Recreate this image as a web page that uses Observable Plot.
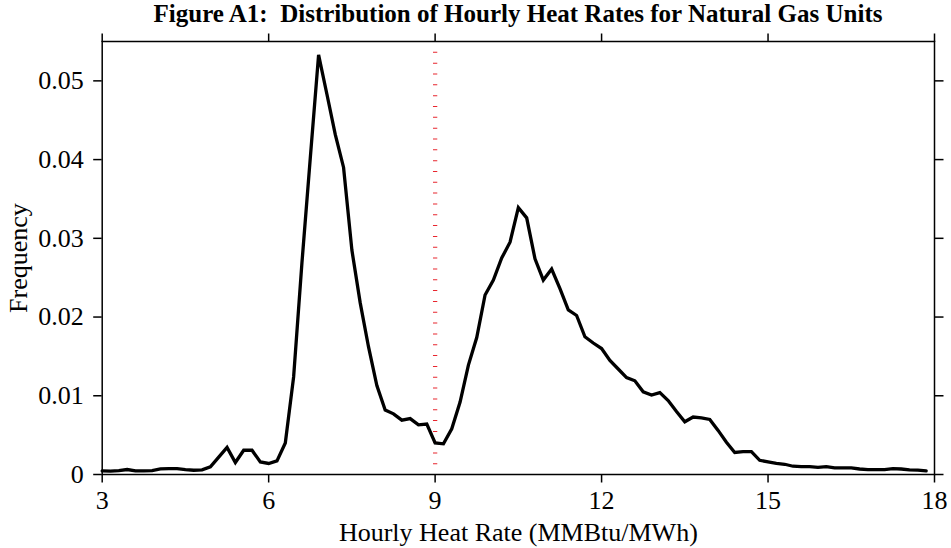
<!DOCTYPE html>
<html>
<head>
<meta charset="utf-8">
<script src="https://cdn.jsdelivr.net/npm/d3@7"></script>
<script src="https://cdn.jsdelivr.net/npm/@observablehq/plot@0.6"></script>
<style>
  html, body { margin: 0; padding: 0; background: white; }
  #title {
    width: 951px; height: 30px; box-sizing: border-box;
    padding-left: 85px; text-align: center;
    font-family: "Liberation Serif", "Times New Roman", serif;
    font-weight: bold; font-size: 25px; line-height: 28px; color: black;
    white-space: nowrap;
  }
  svg { display: block; }
</style>
</head>
<body>
<div id="title">Figure A1:&nbsp; Distribution of Hourly Heat Rates for Natural Gas Units</div>
<div id="chart"></div>
<script>
const heatRate = [3.00,3.15,3.30,3.45,3.60,3.75,3.90,4.05,4.20,4.35,4.50,4.65,4.80,4.95,5.10,5.25,5.40,5.55,5.70,5.85,
  6.00,6.15,6.30,6.45,6.60,6.75,6.90,7.05,7.20,7.35,7.50,7.65,7.80,7.95,8.10,8.25,8.40,8.55,8.70,8.85,
  9.00,9.15,9.30,9.45,9.60,9.75,9.90,10.05,10.20,10.35,10.50,10.65,10.80,10.95,11.10,11.25,11.40,11.55,11.70,11.85,
  12.00,12.15,12.30,12.45,12.60,12.75,12.90,13.05,13.20,13.35,13.50,13.65,13.80,13.95,14.10,14.25,14.40,14.55,14.70,14.85,
  15.00,15.15,15.30,15.45,15.60,15.75,15.90,16.05,16.20,16.35,16.50,16.65,16.80,16.95,17.10,17.25,17.40,17.55,17.70,17.85];
const frequency = [0.00046,0.00042,0.0005,0.00063,0.00046,0.00046,0.0005,0.00071,0.00075,0.00075,
  0.00063,0.00054,0.00059,0.00097,0.0022,0.00343,0.00152,0.00308,0.00308,0.0016,
  0.0014,0.00173,0.0040,0.0124,0.0269,0.0402,0.0533,0.0483,0.0432,0.0390,
  0.0285,0.0218,0.0162,0.0113,0.0082,0.0077,0.0069,0.0071,0.0063,0.0064,
  0.0040,0.0039,0.0058,0.0092,0.0139,0.0174,0.0228,0.0247,0.0275,0.0295,
  0.0339,0.0326,0.0274,0.0247,0.0261,0.0236,0.0209,0.0202,0.0175,0.0167,
  0.0160,0.0145,0.0134,0.0123,0.0119,0.0105,0.0101,0.0104,0.0094,0.0080,
  0.0067,0.0073,0.0072,0.0070,0.0056,0.0041,0.0028,0.0029,0.0029,0.0018,
  0.0016,0.0014,0.0013,0.00105,0.0010,0.0010,0.0009,0.0010,0.00084,0.00084,
  0.00084,0.0007,0.00063,0.00063,0.00063,0.00075,0.0007,0.0006,0.00055,0.00045];
const xTicks = [3, 6, 9, 12, 15, 18];
const yTicks = [0, 0.01, 0.02, 0.03, 0.04, 0.05];
const yTickLabels = ["0", "0.01", "0.02", "0.03", "0.04", "0.05"];
const referenceRate = [9];

const data = heatRate.map((x, i) => ({x, y: frequency[i]}));
const font = "'Liberation Serif', 'Times New Roman', serif";

const chart = Plot.plot({
  width: 951,
  height: 518,
  marginLeft: 101.7,
  marginRight: 17,
  marginTop: 11,
  marginBottom: 74,
  style: {fontFamily: font, fontSize: "26px", color: "black", background: "white"},
  x: {domain: [3, 18]},
  y: {domain: [0, 0.055]},
  marks: [
    Plot.ruleX(referenceRate, {stroke: "#e8262e", strokeWidth: 4.3, strokeDasharray: "1,9.83"}),
    Plot.line(data, {x: "x", y: "y", stroke: "black", strokeWidth: 3.3, strokeLinejoin: "miter", strokeMiterlimit: 6}),
    Plot.frame({stroke: "black", strokeWidth: 1.5}),
    Plot.axisX(xTicks, {anchor: "bottom", tickSize: 8.5, tickPadding: 8, strokeWidth: 1.5, fontSize: 26,
      label: "Hourly Heat Rate (MMBtu/MWh)", labelAnchor: "center", labelArrow: "none", labelOffset: 66}),
    Plot.axisX(xTicks, {anchor: "top", tickSize: 8.5, strokeWidth: 1.5, tickFormat: () => "", label: null}),
    Plot.axisY(yTicks, {anchor: "left", tickSize: 8.5, tickPadding: 10, strokeWidth: 1.5, fontSize: 26,
      tickFormat: (d) => yTickLabels[yTicks.indexOf(d)],
      label: "Frequency", labelAnchor: "center", labelArrow: "none", labelOffset: 94}),
    Plot.axisY(yTicks, {anchor: "right", tickSize: 8.5, strokeWidth: 1.5, tickFormat: () => "", label: null})
  ]
});
document.getElementById("chart").appendChild(chart);
</script>
</body>
</html>
